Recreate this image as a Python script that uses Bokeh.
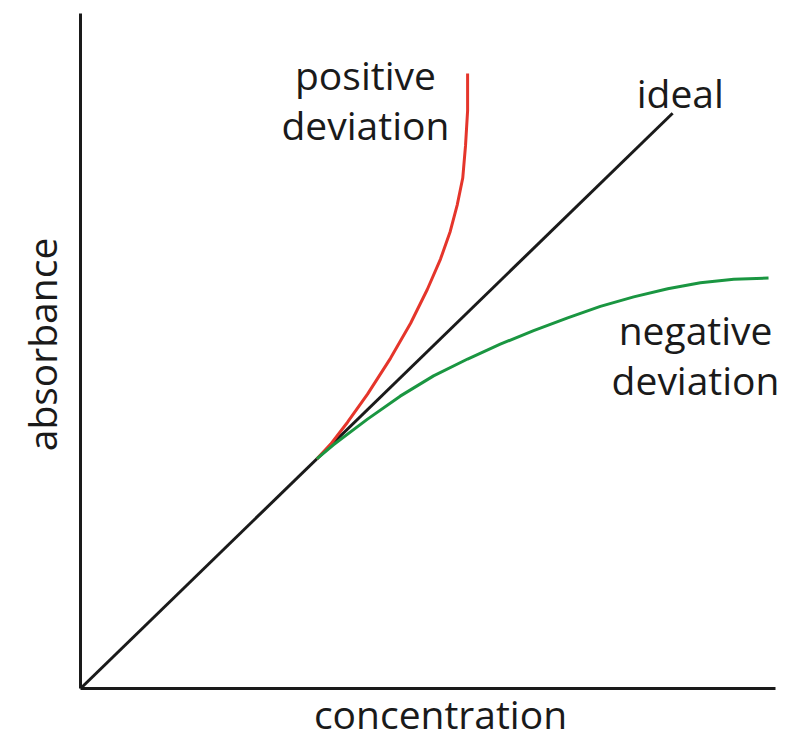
from bokeh.plotting import figure
from bokeh.models import Range1d, FixedTicker
from bokeh.core.properties import value
from bokeh.embed import file_html
from bokeh.resources import INLINE

# ---- data (arbitrary units 0..10) ----
ideal_x = [0.0, 8.52]
ideal_y = [0.0, 8.52]

pos_x = [3.40, 3.60, 3.84, 4.13, 4.46, 4.75, 4.99, 5.18, 5.32, 5.42, 5.50, 5.54, 5.57, 5.57]
pos_y = [3.40, 3.62, 3.94, 4.36, 4.89, 5.41, 5.91, 6.36, 6.77, 7.16, 7.56, 8.04, 8.56, 9.11]

neg_x = [3.40, 3.64, 4.13, 4.60, 5.08, 5.57, 6.04, 6.52, 7.01, 7.48, 7.96, 8.45, 8.92, 9.40, 9.90]
neg_y = [3.40, 3.61, 3.99, 4.33, 4.63, 4.88, 5.10, 5.30, 5.49, 5.66, 5.80, 5.92, 6.01, 6.06, 6.08]

label_text = ["positive", "deviation", "ideal", "negative", "deviation"]
label_x = [4.10, 4.10, 8.63, 8.85, 8.85]
label_y = [9.10, 8.36, 8.83, 5.32, 4.58]

FONT = "Open Sans"
INK = "#1a1a1a"

p = figure(width=800, height=744, output_backend="svg", toolbar_location=None,
           x_range=Range1d(0, 10.36), y_range=Range1d(0, 10.19),
           min_border_left=80, min_border_right=0, min_border_top=0,
           min_border_bottom=56)
p.outline_line_color = None
p.grid.visible = False
p.background_fill_color = "white"
p.border_fill_color = "white"

for ax in (p.xaxis[0], p.yaxis[0]):
    ax.ticker = FixedTicker(ticks=[])
    ax.bounds = (0, 10)
    ax.axis_line_color = INK
    ax.axis_line_width = 3
    ax.major_tick_line_color = None
    ax.minor_tick_line_color = None
    ax.major_label_text_font_size = "0px"
    ax.axis_label_text_font = FONT
    ax.axis_label_text_font_size = "39px"
    ax.axis_label_text_font_style = "normal"
    ax.axis_label_text_color = INK

p.xaxis.axis_label = "concentration"
p.xaxis.axis_label_standoff = -2
p.yaxis.axis_label = "absorbance"
p.yaxis.axis_label_standoff = 13

p.line(ideal_x, ideal_y, line_color=INK, line_width=3)
p.line(pos_x, pos_y, line_color="#e5352b", line_width=3, line_join="round")
p.line(neg_x, neg_y, line_color="#1a9641", line_width=3, line_join="round")

p.text(x=label_x, y=label_y, text=label_text, text_font=value(FONT),
       text_font_size="39px", text_align="center", text_baseline="alphabetic",
       text_color=INK)

open("out.html", "w").write(file_html(p, INLINE))
